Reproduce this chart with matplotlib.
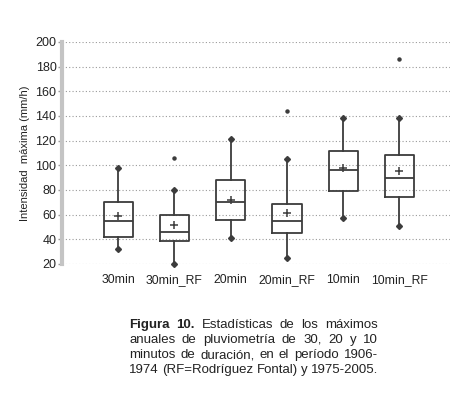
import matplotlib
matplotlib.use('Agg')
import matplotlib.pyplot as plt

labels = ['30min', '30min_RF', '20min', '20min_RF', '10min', '10min_RF']
q1 = [42, 39, 56, 45, 79, 74]
med = [55, 46, 70, 55, 96, 90]
q3 = [70, 60, 88, 69, 112, 108]
wlo = [32, 20, 41, 25, 57, 51]
whi = [98, 80, 121, 105, 138, 138]
means = [59, 52, 72, 61, 98, 95]
outliers = [[], [106], [], [144], [], [186]]

caption = [
    [('Figura', 'bold'), ('10.', 'bold'), ('Estadísticas', 'normal'), ('de', 'normal'),
     ('los', 'normal'), ('máximos', 'normal')],
    [(w, 'normal') for w in 'anuales de pluviometría de 30, 20 y 10'.split()],
    [(w, 'normal') for w in 'minutos de duración, en el período 1906-'.split()],
    [(w, 'normal') for w in '1974 (RF=Rodríguez Fontal) y 1975-2005.'.split()],
]

plt.rcParams['font.family'] = ['Liberation Sans', 'DejaVu Sans']

fig = plt.figure(figsize=(4.72, 3.97), dpi=100)
ax = fig.add_axes([62/472, 1-264/397, (450-62)/472, (264-42)/397])

stats = []
for i in range(len(labels)):
    stats.append(dict(label=labels[i], q1=q1[i], med=med[i], q3=q3[i],
                      whislo=wlo[i], whishi=whi[i], mean=means[i], fliers=outliers[i]))

dark = '#3c3c3c'
parts = ax.bxp(stats, positions=range(1, 7), widths=0.52, showmeans=True, capwidths=0.001,
               boxprops=dict(color=dark, linewidth=1.3),
               medianprops=dict(color=dark, linewidth=1.3),
               whiskerprops=dict(color=dark, linewidth=1.3),
               capprops=dict(color=dark, marker='D', markersize=2.8, markerfacecolor=dark),
               meanprops=dict(marker='+', markeredgecolor=dark, markersize=5.5, markeredgewidth=1.1),
               flierprops=dict(marker='o', markerfacecolor=dark, markeredgecolor=dark, markersize=2.2))
for c in parts['caps']:
    c.set_clip_on(False)

ax.set_xlim(0, 6.9)
ax.set_ylim(20, 200)
ax.set_yticks(range(20, 201, 20))
ax.yaxis.grid(True, linestyle=(0, (1, 2)), color='#9a9a9a', linewidth=0.8)
ax.set_axisbelow(True)
for s in ['top', 'right', 'bottom']:
    ax.spines[s].set_visible(False)
ax.spines['left'].set_color('#c4c4c4')
ax.spines['left'].set_linewidth(3)
ax.tick_params(axis='y', length=3, width=1, color='#9a9a9a', labelsize=9, labelcolor='#222222', pad=1)
ax.tick_params(axis='x', length=0, labelsize=8.8, labelcolor='#222222', pad=7)
ax.set_ylabel('Intensidad  máxima (mm/h)', fontsize=8, color='#222222', labelpad=4)

# justified caption below the chart
x0, x1 = 129/472, 378/472
ys = [1-328/397, 1-343/397, 1-358/397, 1-373/397]
renderer = fig.canvas.get_renderer()
for line, y in zip(caption, ys):
    texts = [fig.text(0, y, w, fontsize=9.5, fontweight=wt, color='#222222') for w, wt in line]
    widths = [t.get_window_extent(renderer).width / fig.bbox.width for t in texts]
    gap = (x1 - x0 - sum(widths)) / (len(texts) - 1)
    x = x0
    for t, wdt in zip(texts, widths):
        t.set_x(x)
        x += wdt + gap

fig.savefig('out.png', dpi=100)
